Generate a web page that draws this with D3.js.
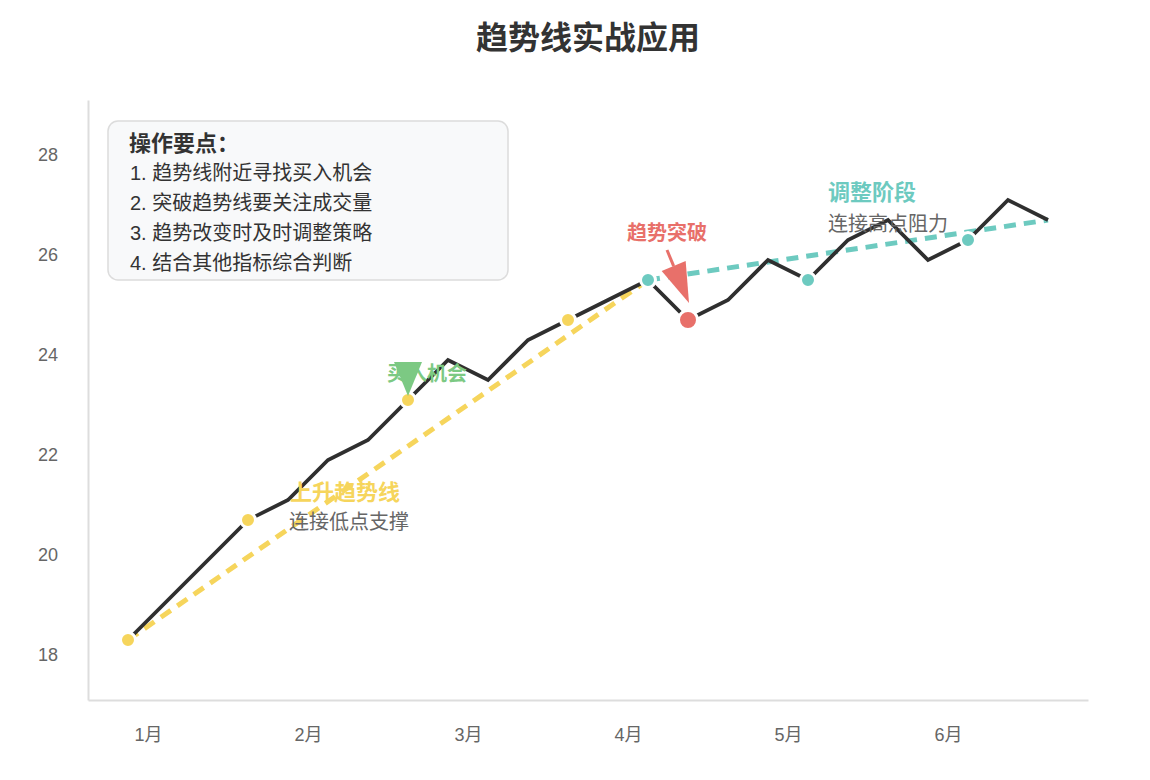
<!DOCTYPE html>
<html>
<head>
<meta charset="utf-8">
<script src="https://cdn.jsdelivr.net/npm/d3@7"></script>
<style>
  body { margin: 0; background: #fff; }
  svg text { font-family: "Liberation Sans", "Noto Sans CJK SC", sans-serif; }
</style>
</head>
<body>
<div id="chart"></div>
<script>
// weekly closing prices, 4 points per month
const prices = [18.3, 19.1, 19.9, 20.7, 21.1, 21.9, 22.3, 23.1, 23.9, 23.5, 24.3, 24.7,
	25.1, 25.5, 24.7, 25.1, 25.9, 25.5, 26.3, 26.7, 25.9, 26.3, 27.1, 26.7];
const months = ["1月", "2月", "3月", "4月", "5月", "6月"];
const yTicks = [18, 20, 22, 24, 26, 28];

// marked points (indices into prices)
const supportPts = [0, 3, 7, 11];
const resistPts = [13, 17, 21];
const breakPts = [14];

// trend lines: [from index, to index]
const supportLine = [0, 13];
const resistLine = [13, 23];

const chartTitle = "趋势线实战应用";
const tipsTitle = "操作要点：";
const tips = ["1. 趋势线附近寻找买入机会", "2. 突破趋势线要关注成交量",
	"3. 趋势改变时及时调整策略", "4. 结合其他指标综合判断"];

const colors = {line: "#2f2f2f", support: "#f6d55c", resist: "#6dcac0", brk: "#e8706a", buy: "#7cc983"};

const width = 1150, height = 780;
const margin = {top: 100, right: 62, bottom: 80, left: 88};

const svg = d3.select("#chart").append("svg")
	.attr("width", width)
	.attr("height", height);

const x = d3.scaleLinear()
	.domain([-1, prices.length])
	.range([margin.left, width - margin.right]);

const y = d3.scaleLinear()
	.domain([d3.min(prices) - 1.2, d3.max(prices) + 2])
	.range([height - margin.bottom, margin.top]);

// title
svg.append("text")
	.attr("x", (margin.left + width - margin.right) / 2)
	.attr("y", 49)
	.attr("text-anchor", "middle")
	.style("font-size", "32px")
	.style("font-weight", "bold")
	.style("fill", "#333")
	.text(chartTitle);

// axes
const xAxis = svg.append("g")
	.attr("transform", `translate(0,${height - margin.bottom})`)
	.call(d3.axisBottom(x)
		.tickValues(months.map((m, i) => i * 4 + 0.5))
		.tickFormat((d, i) => months[i])
		.tickSize(0).tickPadding(28));

const yAxis = svg.append("g")
	.attr("transform", `translate(${margin.left},0)`)
	.call(d3.axisLeft(y).tickValues(yTicks).tickSize(0).tickPadding(30));

[xAxis, yAxis].forEach(g => {
	g.select(".domain").attr("stroke", "#dddddd").attr("stroke-width", 2);
	g.selectAll("text").style("font-size", "18px").style("fill", "#666");
});

// tips box
const box = svg.append("g");
box.append("rect")
	.attr("x", 108).attr("y", 121)
	.attr("width", 400).attr("height", 159)
	.attr("rx", 10)
	.attr("fill", "#f8f9fa")
	.attr("stroke", "#dcdcdc")
	.attr("stroke-width", 1.5);
box.append("text")
	.attr("x", 129).attr("y", 143).attr("dy", "0.36em")
	.style("font-size", "22px").style("font-weight", "bold").style("fill", "#333")
	.text(tipsTitle);
box.selectAll(".tip")
	.data(tips)
	.enter().append("text")
	.attr("class", "tip")
	.attr("x", 130)
	.attr("y", (d, i) => 173 + i * 30)
	.attr("dy", "0.36em")
	.style("font-size", "20px").style("fill", "#333")
	.text(d => d);

// trend lines
function trend(pair, color) {
	svg.append("path")
		.datum(pair)
		.attr("fill", "none")
		.attr("stroke", color)
		.attr("stroke-width", 5)
		.attr("stroke-dasharray", "12,8")
		.attr("d", d3.line().x(i => x(i)).y(i => y(prices[i])));
}
trend(supportLine, colors.support);
trend(resistLine, colors.resist);

// price line
svg.append("path")
	.datum(prices)
	.attr("fill", "none")
	.attr("stroke", colors.line)
	.attr("stroke-width", 3.8)
	.attr("stroke-linejoin", "miter")
	.attr("d", d3.line().x((d, i) => x(i)).y(d => y(d)));

// key points
function dots(idx, color, r) {
	svg.selectAll(null)
		.data(idx)
		.enter().append("circle")
		.attr("cx", i => x(i))
		.attr("cy", i => y(prices[i]))
		.attr("r", r)
		.attr("fill", color)
		.attr("stroke", "#fff")
		.attr("stroke-width", 3);
}
dots(supportPts, colors.support, 7.5);
dots(resistPts, colors.resist, 7.5);
dots(breakPts, colors.brk, 9.5);

// annotations
function label(px, py, txt, color, size, anchor) {
	svg.append("text")
		.attr("x", px).attr("y", py).attr("dy", "0.36em")
		.attr("text-anchor", anchor)
		.style("font-size", size + "px")
		.style("font-weight", "bold")
		.style("fill", color)
		.text(txt);
}
function note(px, py, txt) {
	svg.append("text")
		.attr("x", px).attr("y", py).attr("dy", "0.36em")
		.style("font-size", "20px")
		.style("fill", "#666")
		.text(txt);
}
function arrow(x0, y0, x1, y1, color, headLen, headW) {
	const dx = x1 - x0, dy = y1 - y0, len = Math.hypot(dx, dy);
	const ux = dx / len, uy = dy / len;
	const bx = x1 - ux * headLen, by = y1 - uy * headLen;
	if (len > headLen) {
		svg.append("line")
			.attr("x1", x0).attr("y1", y0).attr("x2", bx).attr("y2", by)
			.attr("stroke", color).attr("stroke-width", 3);
	}
	svg.append("path")
		.attr("d", `M${x1},${y1}L${bx - uy * headW / 2},${by + ux * headW / 2}L${bx + uy * headW / 2},${by - ux * headW / 2}Z`)
		.attr("fill", color);
}

// rising trend line label
const p4 = [x(4), y(prices[4])];
label(p4[0] + 2, p4[1] - 8, "上升趋势线", colors.support, 22, "start");
note(p4[0] + 1, p4[1] + 22, "连接低点支撑");

// adjustment phase label
const p18 = [x(18), y(prices[18])];
label(p18[0] - 20, p18[1] - 48, "调整阶段", colors.resist, 22, "start");
note(p18[0] - 20, p18[1] - 16, "连接高点阻力");

// buy opportunity
const p7 = [x(7), y(prices[7])];
label(p7[0] + 19, p7[1] - 26, "买入机会", colors.buy, 20, "middle");
arrow(p7[0], p7[1] - 38, p7[0], p7[1] - 4, colors.buy, 34, 28);

// trend break
const p14 = [x(14), y(prices[14])];
label(p14[0] - 21, p14[1] - 87, "趋势突破", colors.brk, 20, "middle");
arrow(p14[0] - 21, p14[1] - 70, p14[0] + 1, p14[1] - 17, colors.brk, 40, 26);
</script>
</body>
</html>
